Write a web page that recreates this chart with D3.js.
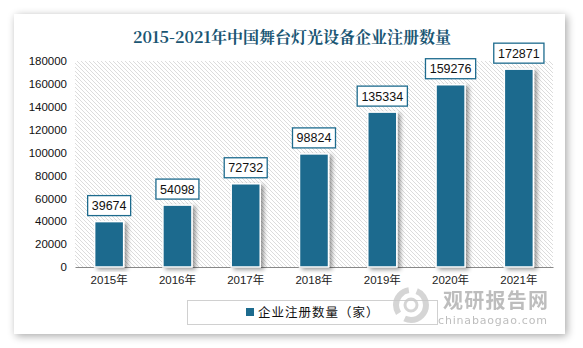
<!DOCTYPE html>
<html><head><meta charset="utf-8">
<script src="https://cdn.jsdelivr.net/npm/d3@7"></script>
<style>
html,body{margin:0;padding:0;background:#fff;}
svg{display:block;}
</style>
</head><body>
<svg id="chart" width="583" height="348"></svg>
<script>
const categories = ["2015年","2016年","2017年","2018年","2019年","2020年","2021年"];
const values = [39674, 54098, 72732, 98824, 135334, 159276, 172871];
const yTicks = [0,20000,40000,60000,80000,100000,120000,140000,160000,180000];
const seriesName = "企业注册数量（家）";
const title = "2015-2021年中国舞台灯光设备企业注册数量";

const svg = d3.select("#chart");
const defs = svg.append("defs");

svg.append("rect").attr("width",583).attr("height",348).attr("fill","#ffffff");
const sh = defs.append("filter").attr("id","cardShadow").attr("x","-10%").attr("y","-10%").attr("width","120%").attr("height","120%");
sh.append("feGaussianBlur").attr("in","SourceAlpha").attr("stdDeviation",4);
sh.append("feOffset").attr("dx",2).attr("dy",2).attr("result","b");
sh.append("feComponentTransfer").append("feFuncA").attr("type","linear").attr("slope",0.35);
const m1 = sh.append("feMerge"); m1.append("feMergeNode"); m1.append("feMergeNode").attr("in","SourceGraphic");
svg.append("rect").attr("x",14).attr("y",14).attr("width",551).attr("height",320)
  .attr("fill","#fff").attr("filter","url(#cardShadow)");

const pat = defs.append("pattern").attr("id","hatch").attr("patternUnits","userSpaceOnUse")
  .attr("width",4).attr("height",4);
pat.append("rect").attr("width",4).attr("height",4).attr("fill","#fff");
pat.append("path").attr("d","M-1,-1 L5,5 M-1,3 L1,5 M3,-1 L5,1").attr("stroke","#dcdcdc").attr("stroke-width",1);

const bs = defs.append("filter").attr("id","barShadow").attr("x","-30%").attr("y","-10%").attr("width","160%").attr("height","120%");
bs.append("feGaussianBlur").attr("in","SourceAlpha").attr("stdDeviation",2);
bs.append("feOffset").attr("dx",3).attr("dy",2).attr("result","b");
bs.append("feComponentTransfer").append("feFuncA").attr("type","linear").attr("slope",0.4);
const m2 = bs.append("feMerge"); m2.append("feMergeNode"); m2.append("feMergeNode").attr("in","SourceGraphic");

const plot = {left:75, right:553, top:61, bottom:267};

svg.append("rect").attr("x",plot.left).attr("y",plot.top)
  .attr("width",plot.right-plot.left).attr("height",plot.bottom-plot.top).attr("fill","url(#hatch)");

svg.append("text").attr("x",292).attr("y",43).attr("text-anchor","middle")
  .attr("font-family","'Noto Serif CJK SC','Noto Sans CJK SC',serif").attr("font-weight","bold")
  .attr("font-size",16).attr("fill","#1a5673").text(title);

const x = d3.scaleBand().domain(categories).range([plot.left, plot.right]).paddingInner(0.575).paddingOuter(0.2875);
const y = d3.scaleLinear().domain([0,180000]).range([plot.bottom, plot.top]);

const yAxis = svg.append("g").attr("transform",`translate(${plot.left},0)`)
  .call(d3.axisLeft(y).tickValues(yTicks).tickSize(0).tickPadding(8).tickFormat(d3.format("d")));
yAxis.select(".domain").remove();
yAxis.selectAll("text").attr("font-family","'Liberation Sans',Arial,sans-serif").attr("font-size",11.5).attr("fill","#111");

const xAxis = svg.append("g").attr("transform",`translate(0,${plot.bottom})`)
  .call(d3.axisBottom(x).tickSize(0).tickPadding(9));
xAxis.select(".domain").attr("stroke","#888").attr("stroke-width",1.2);
xAxis.selectAll("text").attr("font-family","'Liberation Sans','Noto Sans CJK SC',sans-serif").attr("font-size",11.5).attr("fill","#222");

svg.append("g").selectAll("rect").data(values).join("rect")
  .attr("x",(d,i)=>x(categories[i])).attr("width",x.bandwidth())
  .attr("y",d=>y(d)).attr("height",d=>plot.bottom-y(d))
  .attr("fill","#1d6b8e").attr("stroke","#fff").attr("stroke-width",1.5)
  .attr("filter","url(#barShadow)");

const lg = svg.append("g");
values.forEach((v,i)=>{
  const cx = x(categories[i]) + x.bandwidth()/2;
  const txt = String(v);
  const w = txt.length*7.2 + 7;
  const by = y(v) - 6;
  lg.append("rect").attr("x",cx-w/2).attr("y",by-20).attr("width",w).attr("height",20)
    .attr("fill","#fff").attr("stroke","#1d6b8e").attr("stroke-width",1.3);
  lg.append("text").attr("x",cx).attr("y",by-5.5).attr("text-anchor","middle")
    .attr("font-family","'Liberation Sans',Arial,sans-serif").attr("font-size",12.5).attr("fill","#111").text(txt);
});

svg.append("rect").attr("x",187.5).attr("y",300.5).attr("width",250).attr("height",24)
  .attr("fill","#fff").attr("stroke","#d0d0d0");
svg.append("rect").attr("x",246).attr("y",308).attr("width",8).attr("height",8).attr("fill","#1d6b8e");
svg.append("text").attr("x",258).attr("y",317).attr("font-family","'Noto Sans CJK SC',sans-serif")
  .attr("font-size",12.5).attr("fill","#111").attr("letter-spacing",1).text(seriesName);

const wm = svg.append("g").attr("opacity",0.75);
wm.append("circle").attr("cx",411).attr("cy",305).attr("r",15).attr("fill","none").attr("stroke","#c8c8c8").attr("stroke-width",6)
  .attr("stroke-dasharray","30 8");
wm.append("circle").attr("cx",411).attr("cy",305).attr("r",6).attr("fill","none").attr("stroke","#c8c8c8").attr("stroke-width",3);
wm.append("text").attr("x",443).attr("y",308).attr("font-family","'Noto Sans CJK SC',sans-serif").attr("font-weight","bold")
  .attr("font-size",20).attr("fill","#a8a8a8").attr("textLength",105).text("观研报告网");
wm.append("text").attr("x",438).attr("y",324).attr("font-family","'DejaVu Sans',sans-serif")
  .attr("font-size",11).attr("fill","#a8a8a8").attr("textLength",109).text("chinabaogao.com");
</script>
</body></html>
